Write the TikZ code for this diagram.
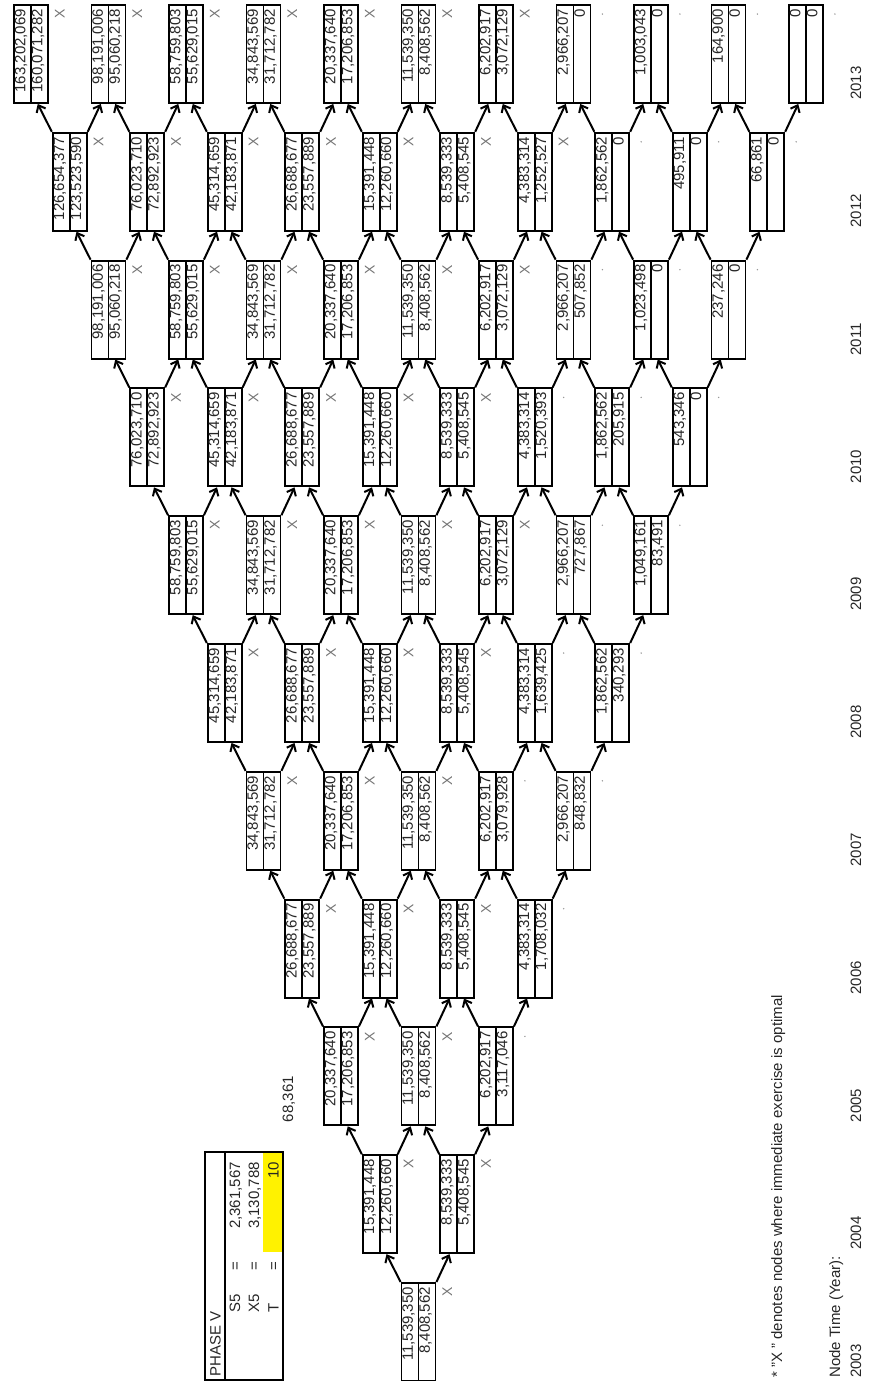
\documentclass[tikz,border=0pt]{standalone}
\usepackage{fontspec}
\setmainfont{Liberation Sans}
\usetikzlibrary{shapes.multipart,arrows.meta}

\tikzset{
  cellbox/.style={rectangle split, rectangle split parts=2, draw, line width=1.9pt,
    inner xsep=4pt, inner ysep=0pt, font=\fontsize{15}{15}\selectfont, text=black!85},
  arr/.style={-{Straight Barb[length=6pt,width=10pt]}, line width=2pt},
  mkx/.style={text=black!55, font=\fontsize{14}{14}\selectfont, inner sep=0pt, node contents=X},
  mkd/.style={circle, fill=black!40, inner sep=0pt, minimum size=1.6pt, node contents={}},
  lbl/.style={font=\fontsize{15}{15}\selectfont, text=black!85, inner sep=0pt, anchor=base west},
}
\newcommand{\cellnum}[1]{\makebox[90pt][r]{\rule[-4.6pt]{0pt}{14.8pt}#1}}

\begin{document}
\begin{tikzpicture}[x=1pt, y=1pt, rotate=90, transform shape]
    \useasboundingbox (0,0) rectangle (1381,-883);

    % 参数表
    \fill[yellow] (129,-263) rectangle (228,-283);
    \draw[line width=1.8pt] (1,-205) rectangle (229,-283);
    \draw[line width=1.8pt] (1,-225) -- (229,-225);
    \node[lbl] (phase) at (4,-220.5) {PHASE V};
    \node[lbl] (s5) at (68,-240) {S5};
    \node[lbl] (x5) at (68,-259) {X5};
    \node[lbl] (tt) at (68,-278.5) {T};
    \foreach \r/\v in {240/{2,361,567}, 259/{3,130,788}, 278.5/10} {
        \node[lbl, anchor=base] at (115,-\r) {=};
        \node[lbl, anchor=base east] at (219,-\r) {\v};
    }
    \node[lbl, anchor=base east] (val) at (305,-293) {68,361};

    % 二叉树节点
    \foreach \t/\j/\a/\b/\m in {
        0/0/{11,539,350}/{8,408,562}/x,
        1/0/{15,391,448}/{12,260,660}/x, 1/1/{8,539,333}/{5,408,545}/x,
        2/0/{20,337,640}/{17,206,853}/x, 2/1/{11,539,350}/{8,408,562}/x, 2/2/{6,202,917}/{3,117,046}/d,
        3/0/{26,688,677}/{23,557,889}/x, 3/1/{15,391,448}/{12,260,660}/x, 3/2/{8,539,333}/{5,408,545}/x,
        3/3/{4,383,314}/{1,708,032}/d,
        4/0/{34,843,569}/{31,712,782}/x, 4/1/{20,337,640}/{17,206,853}/x, 4/2/{11,539,350}/{8,408,562}/x,
        4/3/{6,202,917}/{3,079,928}/d, 4/4/{2,966,207}/{848,832}/d,
        5/0/{45,314,659}/{42,183,871}/x, 5/1/{26,688,677}/{23,557,889}/x, 5/2/{15,391,448}/{12,260,660}/x,
        5/3/{8,539,333}/{5,408,545}/x, 5/4/{4,383,314}/{1,639,425}/d, 5/5/{1,862,562}/{340,293}/d,
        6/0/{58,759,803}/{55,629,015}/x, 6/1/{34,843,569}/{31,712,782}/x, 6/2/{20,337,640}/{17,206,853}/x,
        6/3/{11,539,350}/{8,408,562}/x, 6/4/{6,202,917}/{3,072,129}/x, 6/5/{2,966,207}/{727,867}/d,
        6/6/{1,049,161}/{83,491}/d,
        7/0/{76,023,710}/{72,892,923}/x, 7/1/{45,314,659}/{42,183,871}/x, 7/2/{26,688,677}/{23,557,889}/x,
        7/3/{15,391,448}/{12,260,660}/x, 7/4/{8,539,333}/{5,408,545}/x, 7/5/{4,383,314}/{1,520,393}/d,
        7/6/{1,862,562}/{205,915}/d, 7/7/{543,346}/0/d,
        8/0/{98,191,006}/{95,060,218}/x, 8/1/{58,759,803}/{55,629,015}/x, 8/2/{34,843,569}/{31,712,782}/x,
        8/3/{20,337,640}/{17,206,853}/x, 8/4/{11,539,350}/{8,408,562}/x, 8/5/{6,202,917}/{3,072,129}/x,
        8/6/{2,966,207}/{507,852}/d, 8/7/{1,023,498}/0/d, 8/8/{237,246}/0/d,
        9/0/{126,654,377}/{123,523,590}/x, 9/1/{76,023,710}/{72,892,923}/x, 9/2/{45,314,659}/{42,183,871}/x,
        9/3/{26,688,677}/{23,557,889}/x, 9/4/{15,391,448}/{12,260,660}/x, 9/5/{8,539,333}/{5,408,545}/x,
        9/6/{4,383,314}/{1,252,527}/x, 9/7/{1,862,562}/0/d, 9/8/{495,911}/0/d, 9/9/{66,861}/0/d,
        10/0/{163,202,069}/{160,071,282}/x, 10/1/{98,191,006}/{95,060,218}/x, 10/2/{58,759,803}/{55,629,015}/x,
        10/3/{34,843,569}/{31,712,782}/x, 10/4/{20,337,640}/{17,206,853}/x, 10/5/{11,539,350}/{8,408,562}/x,
        10/6/{6,202,917}/{3,072,129}/x, 10/7/{2,966,207}/0/d, 10/8/{1,003,043}/0/d, 10/9/{164,900}/0/d,
        10/10/0/0/d} {
        \node[cellbox] (n-\t-\j) at ({49+127.8*\t}, {-418.5-(2*\j-\t)*38.75})
            {\cellnum{\a}\nodepart{two}\cellnum{\b}};
        \node[mk\m, name=m-\t-\j, at={([shift={(-10,-11)}]n-\t-\j.south east)}];
    }

    % 连线
    \foreach \t in {0,...,9} {
        \pgfmathtruncatemacro\s{\t+1}
        \foreach \j in {0,...,\t} {
            \pgfmathtruncatemacro\k{\j+1}
            \draw[arr] (n-\t-\j.north east) -- ([yshift=-6.75pt]n-\s-\j.west);
            \draw[arr] (n-\t-\j.south east) -- ([yshift=7.75pt]n-\s-\k.west);
        }
    }

    % 注释
    \node[lbl] (note) at (3,-782) {* "X " denotes nodes where immediate exercise is optimal};
    \node[lbl] (axis) at (3,-840) {Node Time (Year):};
    \foreach \t/\yr in {0/2003, 1/2004, 2/2005, 3/2006, 4/2007, 5/2008, 6/2009, 7/2010, 8/2011, 9/2012, 10/2013}
        \node[lbl] (yr-\t) at ({3+127.8*\t}, -861) {\yr};

\end{tikzpicture}
\end{document}
